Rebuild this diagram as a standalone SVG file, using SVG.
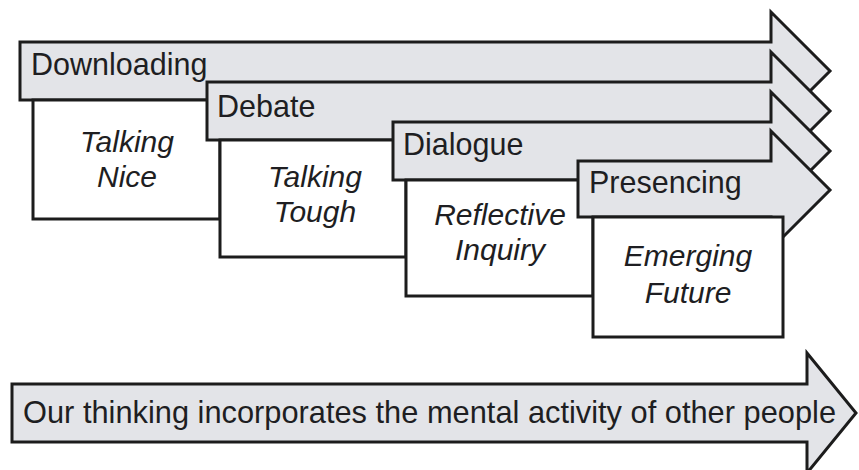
<svg xmlns="http://www.w3.org/2000/svg" width="859" height="470" viewBox="0 0 859 470">
<style>
.arr{fill:#e3e4e8;stroke:#1c1c1c;stroke-width:3;stroke-linejoin:miter}
.box{fill:#ffffff;stroke:#1c1c1c;stroke-width:3}
.lbl{font-family:"Liberation Sans",Arial,sans-serif;font-size:30.5px;fill:#1e1e22}
.it{font-family:"Liberation Sans",Arial,sans-serif;font-size:30px;font-style:italic;fill:#1e1e22;text-anchor:middle}
</style>
<rect width="859" height="470" fill="#ffffff"/>
<g id="downloading">
<polygon class="arr" points="20,42 771,42 771,12 830,71 771,130 771,100 20,100"/>
<text class="lbl" x="31" y="75">Downloading</text>
</g>
<g id="talking-nice">
<rect class="box" x="33" y="100" width="187" height="119"/>
<text class="it" x="127" y="152">Talking</text>
<text class="it" x="127" y="187">Nice</text>
</g>
<g id="debate">
<polygon class="arr" points="207,82 771,82 771,52 830,111 771,170 771,140 207,140"/>
<text class="lbl" x="217" y="117">Debate</text>
</g>
<g id="talking-tough">
<rect class="box" x="220" y="140" width="186" height="117"/>
<text class="it" x="315" y="187">Talking</text>
<text class="it" x="315" y="222">Tough</text>
</g>
<g id="dialogue">
<polygon class="arr" points="393,122 771,122 771,92 830,151 771,210 771,180 393,180"/>
<text class="lbl" x="403" y="155">Dialogue</text>
</g>
<g id="reflective-inquiry">
<rect class="box" x="406" y="180" width="187" height="116"/>
<text class="it" x="500" y="225">Reflective</text>
<text class="it" x="500" y="260">Inquiry</text>
</g>
<g id="presencing">
<polygon class="arr" points="578,161 771,161 771,131 830,190 771,249 771,217 578,217"/>
<text class="lbl" x="589" y="193">Presencing</text>
</g>
<g id="emerging-future">
<rect class="box" x="593" y="217" width="190" height="120"/>
<text class="it" x="688" y="266">Emerging</text>
<text class="it" x="688" y="303">Future</text>
</g>
<g id="thinking-arrow">
<polygon class="arr" points="12,384 807,384 807,353 856,413 807,473 807,442 12,442"/>
<text class="lbl" x="23" y="423" style="font-size:32px" textLength="813" lengthAdjust="spacingAndGlyphs">Our thinking incorporates the mental activity of other people</text>
</g>
</svg>
